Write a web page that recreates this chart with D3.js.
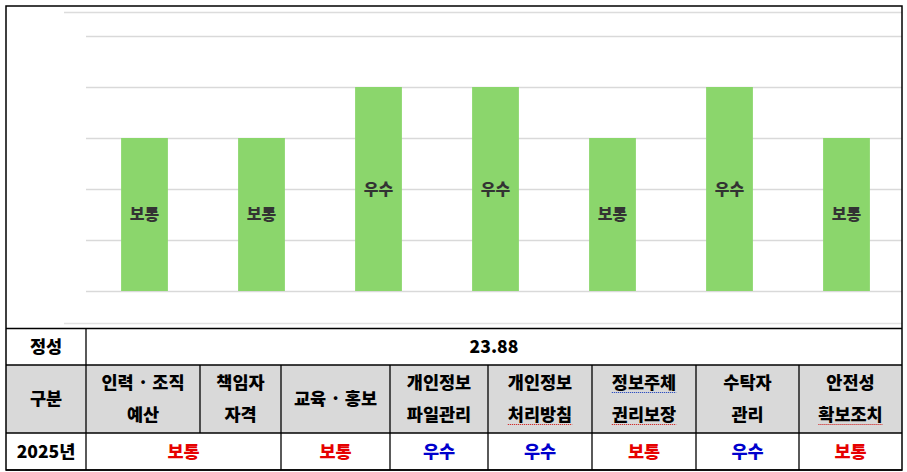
<!DOCTYPE html>
<html>
<head>
<meta charset="utf-8">
<script src="https://cdn.jsdelivr.net/npm/d3@7"></script>
<style>
  body { margin: 0; background: #fff; }
  text { font-family: "Noto Sans CJK KR", "Noto Sans", sans-serif; font-weight: 900; }
</style>
</head>
<body>
<div id="chart"></div>
<script>
// data
var groups = ["인력·조직 예산/책임자 자격", "교육·홍보", "개인정보 파일관리", "개인정보 처리방침",
  "정보주체 권리보장", "수탁자 관리", "안전성 확보조치"];
var grades = ["보통", "보통", "우수", "우수", "보통", "우수", "보통"];
var scores = [3, 3, 4, 4, 3, 4, 3];
var yTicks = [0, 1, 2, 3, 4, 5];

var headerLines = [["인력 · 조직", "예산"], ["책임자", "자격"], ["교육 · 홍보"], ["개인정보", "파일관리"],
  ["개인정보", "처리방침"], ["정보주체", "권리보장"], ["수탁자", "관리"], ["안전성", "확보조치"]];
var resultSpans = [2, 1, 1, 1, 1, 1, 1];
var qualLabel = "정성";
var qualScore = "23.88";
var headLabel = "구분";
var yearLabel = "2025년";

// svg container
var svgWidth = 907;
var svgHeight = 472;

var svg = d3.select("#chart")
  .append("svg")
  .attr("width", svgWidth)
  .attr("height", svgHeight);

var gradeColor = { "보통": "#e60000", "우수": "#0000cc" };

// chart area
var x = d3.scaleBand()
  .domain(groups)
  .range([86, 905])
  .paddingInner(0.6)
  .paddingOuter(0.3);

var y = d3.scaleLinear()
  .domain([0, 5])
  .range([291, 36]);

// plot area edge lines
svg.append("line").attr("x1", 64).attr("x2", 902).attr("y1", 12.5).attr("y2", 12.5)
  .attr("stroke", "#dcdcdc").attr("stroke-width", 1.5);
svg.append("line").attr("x1", 64).attr("x2", 902).attr("y1", 323.5).attr("y2", 323.5)
  .attr("stroke", "#e2e2e2").attr("stroke-width", 1.5);

// gridlines
var leftAxis = d3.axisLeft(y).tickValues(yTicks).tickSize(-(902 - 86)).tickFormat("");
var grid = svg.append("g")
  .attr("transform", "translate(86,0)")
  .call(leftAxis);
grid.select(".domain").remove();
grid.selectAll(".tick line").attr("stroke", "#d9d9d9").attr("stroke-width", 1.5);

// bars
svg.selectAll("rect.bar")
  .data(groups)
  .enter()
  .append("rect")
  .attr("class", "bar")
  .attr("x", d => x(d))
  .attr("width", x.bandwidth())
  .attr("y", (d, i) => y(scores[i]))
  .attr("height", (d, i) => y(0) - y(scores[i]))
  .attr("fill", "#8bd66c");

svg.selectAll("text.barLabel")
  .data(groups)
  .enter()
  .append("text")
  .attr("class", "barLabel")
  .attr("x", d => x(d) + x.bandwidth() / 2)
  .attr("y", (d, i) => (y(scores[i]) + y(0)) / 2)
  .attr("dy", "0.36em")
  .attr("text-anchor", "middle")
  .attr("font-size", 16)
  .attr("fill", "#333")
  .text((d, i) => grades[i]);

// table
var colEdges = [6, 86, 200, 281, 390, 488, 592, 696, 799, 902];
var rowEdges = [328.5, 365, 433, 470];
var table = svg.append("g");

// gray header row
table.append("rect")
  .attr("x", colEdges[0]).attr("y", rowEdges[1])
  .attr("width", colEdges[9] - colEdges[0]).attr("height", rowEdges[2] - rowEdges[1])
  .attr("fill", "#d9d9d9");

// horizontal rules
rowEdges.forEach(function(r) {
  table.append("line").attr("x1", colEdges[0]).attr("x2", colEdges[9])
    .attr("y1", r).attr("y2", r).attr("stroke", "#000").attr("stroke-width", 1.3);
});

// vertical rules
table.append("line").attr("x1", colEdges[1]).attr("x2", colEdges[1])
  .attr("y1", rowEdges[0]).attr("y2", rowEdges[3]).attr("stroke", "#000").attr("stroke-width", 1.3);
colEdges.slice(2, 9).forEach(function(c, i) {
  var bottom = (i === 0) ? rowEdges[2] : rowEdges[3];
  table.append("line").attr("x1", c).attr("x2", c)
    .attr("y1", rowEdges[1]).attr("y2", bottom).attr("stroke", "#000").attr("stroke-width", 1.3);
});

function cellText(cx, cy, str, color) {
  return table.append("text")
    .attr("x", cx).attr("y", cy).attr("dy", "0.36em")
    .attr("text-anchor", "middle")
    .attr("font-size", 17.5)
    .attr("fill", color || "#000")
    .text(str);
}

var r1 = (rowEdges[0] + rowEdges[1]) / 2;
var r2 = (rowEdges[1] + rowEdges[2]) / 2;
var r3 = (rowEdges[2] + rowEdges[3]) / 2;

cellText((colEdges[0] + colEdges[1]) / 2, r1, qualLabel);
cellText((colEdges[1] + colEdges[9]) / 2, r1, qualScore);
cellText((colEdges[0] + colEdges[1]) / 2, r2, headLabel);
cellText((colEdges[0] + colEdges[1]) / 2, r3, yearLabel);

// header cells, with spell-check squiggles as seen
var squiggles = { "처리방침": "#d03030", "권리보장": "#d03030", "확보조치": "#d03030", "정보주체": "#3050c0" };
headerLines.forEach(function(lines, i) {
  var cx = (colEdges[i + 1] + colEdges[i + 2]) / 2;
  lines.forEach(function(l, j) {
    var cy = lines.length === 1 ? r2 : r2 + (j === 0 ? -16 : 16);
    var t = cellText(cx, cy, l);
    if (squiggles[l]) {
      var w = t.node().getComputedTextLength();
      table.append("line")
        .attr("x1", cx - w / 2).attr("x2", cx + w / 2)
        .attr("y1", cy + 9.5).attr("y2", cy + 9.5)
        .attr("stroke", squiggles[l]).attr("stroke-width", 1.2)
        .attr("stroke-dasharray", "1.2,0.8");
    }
  });
});

// result row
var col = 1;
grades.forEach(function(g, i) {
  var x0 = colEdges[col];
  var x1 = colEdges[col + resultSpans[i]];
  cellText((x0 + x1) / 2, r3, g, gradeColor[g]);
  col += resultSpans[i];
});

// outer border
svg.append("rect")
  .attr("x", 6).attr("y", 6)
  .attr("width", 896).attr("height", 464)
  .attr("fill", "none")
  .attr("stroke", "#000")
  .attr("stroke-width", 1.5);
</script>
</body>
</html>
